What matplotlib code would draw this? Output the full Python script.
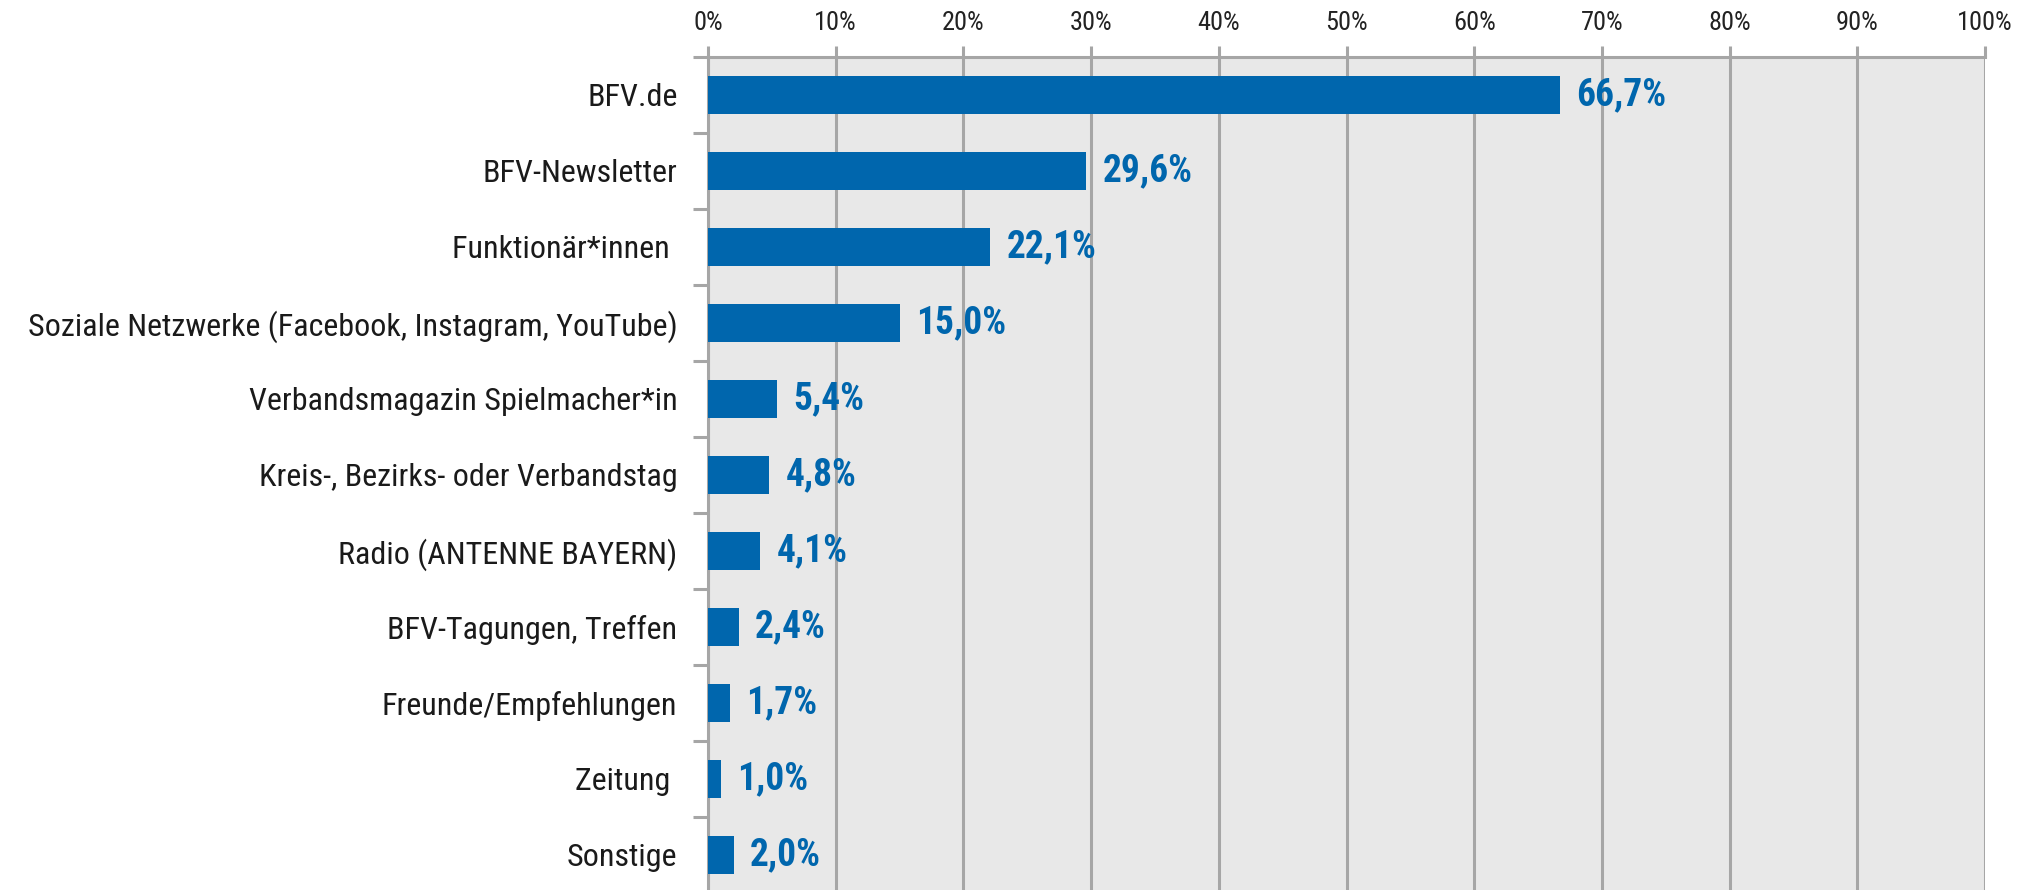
import numpy as np
import matplotlib.pyplot as plt
from matplotlib.ticker import FixedLocator

# Data
categories = [
    "BFV.de",
    "BFV-Newsletter",
    "Funktionär*innen ",
    "Soziale Netzwerke (Facebook, Instagram, YouTube)",
    "Verbandsmagazin Spielmacher*in",
    "Kreis-, Bezirks- oder Verbandstag",
    "Radio (ANTENNE BAYERN)",
    "BFV-Tagungen, Treffen",
    "Freunde/Empfehlungen",
    "Zeitung ",
    "Sonstige",
]
values = [66.7, 29.6, 22.1, 15.0, 5.4, 4.8, 4.1, 2.4, 1.7, 1.0, 2.0]
xticks = list(range(0, 101, 10))
xtick_labels = [f"{t}%" for t in xticks]

plt.rcParams['font.family'] = ['Roboto Condensed', 'Sofia Sans Semi Condensed', 'DejaVu Sans']

bar_color = '#0066ad'
grid_color = '#a6a6a6'

fig = plt.figure(figsize=(20.21, 8.9), dpi=100)
ax = fig.add_axes([708 / 2021, -3 / 890, (1985 - 708) / 2021, (893 - 57) / 890])
ax.set_facecolor('#e8e8e8')

y = np.arange(len(categories))
ax.barh(y, values, height=0.5, color=bar_color, zorder=3)

for yi, v in zip(y, values):
    ax.text(v + 1.3, yi, f"{v:.1f}".replace('.', ',') + "%", va='center', ha='left',
            fontsize=27, fontweight='bold', color=bar_color, zorder=4)

ax.set_xlim(0, 100)
ax.set_ylim(len(categories) - 0.5, -0.5)

ax.xaxis.tick_top()
ax.set_xticks(xticks)
ax.set_xticklabels(xtick_labels, fontsize=19, color='#222222')
ax.tick_params(axis='x', length=8, width=2.2, color=grid_color, pad=8)
ax.xaxis.grid(True, color=grid_color, linewidth=2.2, zorder=1)

ax.set_yticks(y)
ax.set_yticklabels(categories, fontsize=23, color='#1a1a1a')
ax.yaxis.set_minor_locator(FixedLocator(np.arange(-0.5, len(categories), 1)))
ax.tick_params(axis='y', which='major', length=0, pad=22)
ax.tick_params(axis='y', which='minor', length=11, width=2.2, color=grid_color)

for side in ['right', 'bottom']:
    ax.spines[side].set_visible(False)
for side in ['top', 'left']:
    ax.spines[side].set_color(grid_color)
    ax.spines[side].set_linewidth(2.2)
    ax.spines[side].set_zorder(2)

fig.savefig('out.png', dpi=100)
